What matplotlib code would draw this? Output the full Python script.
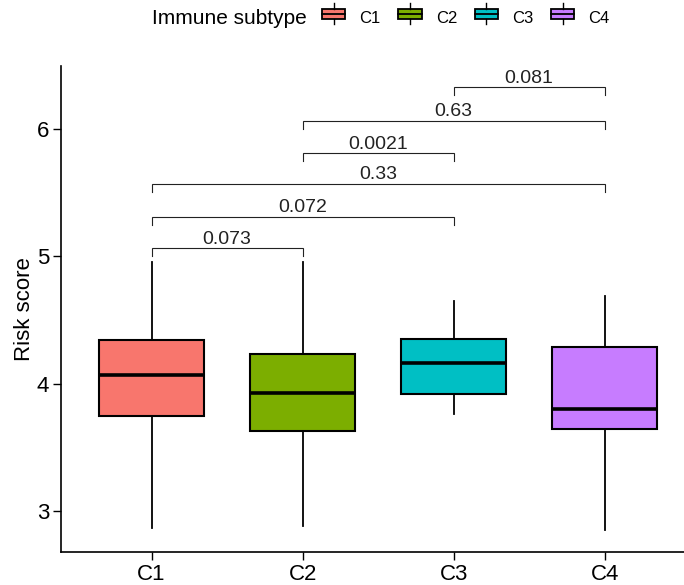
import matplotlib
matplotlib.use("Agg")
import matplotlib.pyplot as plt
from matplotlib.legend_handler import HandlerBase
from matplotlib.patches import Rectangle
from matplotlib.lines import Line2D

plt.rcParams["font.family"] = ["Liberation Sans", "DejaVu Sans"]

# box summaries per immune subtype
groups = ["C1", "C2", "C3", "C4"]
colors = ["#F8766D", "#7CAE00", "#00BFC4", "#C77CFF"]
whislo = [2.87, 2.88, 3.76, 2.85]
q1 = [3.75, 3.625, 3.915, 3.647]
med = [4.065, 3.927, 4.166, 3.80]
q3 = [4.345, 4.236, 4.35, 4.29]
whishi = [4.955, 4.955, 4.652, 4.69]

# pairwise comparison p-values (group a, group b, bracket height, label)
pair_a = [1, 1, 1, 2, 2, 3]
pair_b = [2, 3, 4, 3, 4, 4]
pair_y = [5.065, 5.31, 5.57, 5.81, 6.065, 6.33]
pair_p = ["0.073", "0.072", "0.33", "0.0021", "0.63", "0.081"]


class BoxKey(HandlerBase):
    """Legend key drawn as a tiny boxplot glyph."""
    def create_artists(self, legend, orig, xd, yd, w, h, fontsize, trans):
        box = Rectangle((xd, yd + h * 0.15), w, h * 0.7, facecolor=orig.get_facecolor(),
                        edgecolor="black", lw=1.3, transform=trans)
        mid = Line2D([xd, xd + w], [yd + h / 2] * 2, color="black", lw=1.3, transform=trans)
        stub_hi = Line2D([xd + w / 2] * 2, [yd + h * 0.85, yd + h * 1.2], color="black", lw=1.0, transform=trans)
        stub_lo = Line2D([xd + w / 2] * 2, [yd - h * 0.2, yd + h * 0.15], color="black", lw=1.0, transform=trans)
        return [box, mid, stub_hi, stub_lo]


fig = plt.figure(figsize=(6.84, 5.85), dpi=100)
ax = fig.add_axes([61 / 684, 33 / 585, 1 - 61 / 684, (552 - 66) / 585])

stats = []
for i, g in enumerate(groups):
    stats.append(dict(label=g, whislo=whislo[i], q1=q1[i], med=med[i],
                      q3=q3[i], whishi=whishi[i], fliers=[]))

bp = ax.bxp(stats, positions=range(1, len(groups) + 1), widths=0.7,
            showcaps=False, showfliers=False, patch_artist=True,
            boxprops=dict(edgecolor="black", lw=1.5),
            whiskerprops=dict(color="black", lw=1.3),
            medianprops=dict(color="black", lw=2.6))
for patch, c in zip(bp["boxes"], colors):
    patch.set_facecolor(c)

# significance brackets
tip = 0.065
for a, b, y, p in zip(pair_a, pair_b, pair_y, pair_p):
    ax.plot([a, a, b, b], [y - tip, y, y, y - tip], color="#222222", lw=0.8,
            solid_joinstyle="miter")
    ax.text((a + b) / 2, y + 0.035, p, ha="center", va="baseline",
            fontsize=14, color="#222222")

ax.set_xlim(0.4, 0.4 + (684 - 61) / 151)
ax.set_ylim(2.678, 6.495)
ax.set_yticks([3, 4, 5, 6])
ax.set_xticks(range(1, len(groups) + 1))
ax.set_xticklabels(groups)
ax.tick_params(labelsize=16, length=5.5, width=1.0, colors="black", pad=3)
ax.set_ylabel("Risk score", fontsize=16)
ax.yaxis.set_label_coords(-0.042, 0.5)
for s in ("top", "right"):
    ax.spines[s].set_visible(False)
for s in ("left", "bottom"):
    ax.spines[s].set_linewidth(1.2)

# legend across the top, title to the left of the keys
fig.text(152 / 684, 1 - 18 / 585, "Immune subtype", ha="left", va="center", fontsize=15)
handles = [Rectangle((0, 0), 1, 1, facecolor=c) for c in colors]
fig.legend(handles, groups, handler_map={Rectangle: BoxKey()}, loc="center left",
           bbox_to_anchor=(322 / 684, 1 - 18 / 585), ncol=4, frameon=False,
           fontsize=12, handlelength=1.4, handleheight=1.0, handletextpad=0.85,
           columnspacing=1.05, borderpad=0, borderaxespad=0)

fig.savefig("out.png", dpi=100)
